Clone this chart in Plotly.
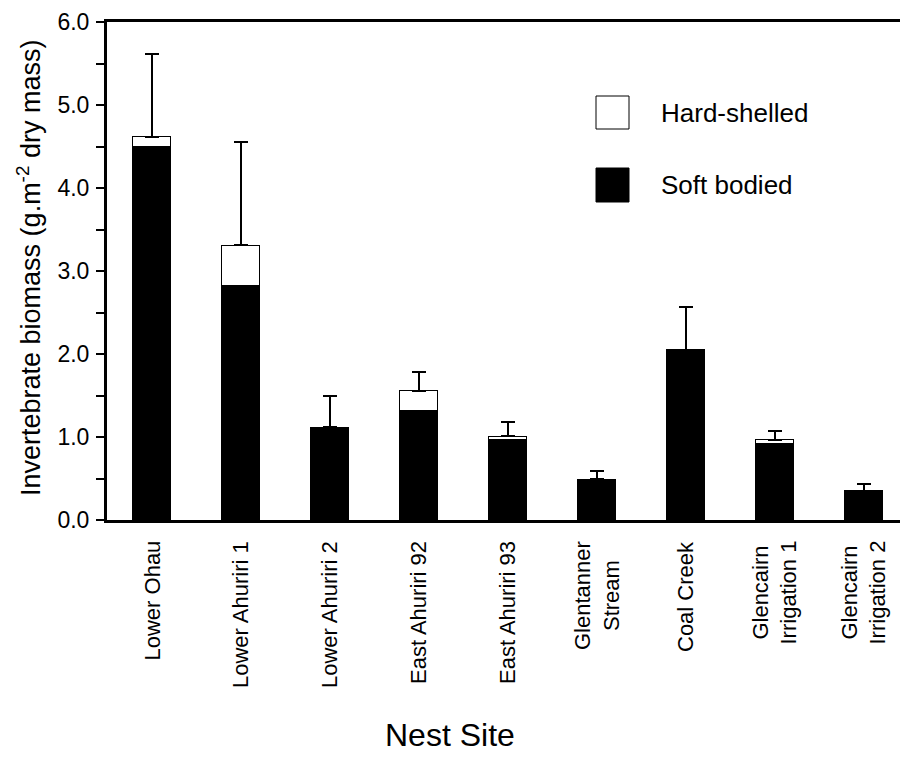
import plotly.graph_objects as go

sites = ["Lower Ohau", "Lower Ahuriri 1", "Lower Ahuriri 2", "East Ahuriri 92",
         "East Ahuriri 93", "Glentanner<br>Stream", "Coal Creek",
         "Glencairn<br>Irrigation 1", "Glencairn<br>Irrigation 2"]
soft_bodied = [4.50, 2.83, 1.12, 1.32, 0.97, 0.49, 2.05, 0.925, 0.353]
hard_shelled = [0.12, 0.48, 0.0, 0.24, 0.04, 0.0, 0.0, 0.04, 0.0]
se_total = [1.00, 1.25, 0.38, 0.22, 0.17, 0.10, 0.52, 0.105, 0.082]
series_names = ["Hard-shelled", "Soft bodied"]

FONT = "Liberation Sans, Arial, sans-serif"
OFF = 8  # default page body margin
W, H = 908 - OFF, 773 - OFF
L, R, T = 107 - OFF, 0, 22 - OFF
PW, PH = 801, 498
B = H - T - PH


def px(xpix):
    return (xpix - OFF - L) / PW


def py(ypix):
    return (T + PH - (ypix - OFF)) / PH


fig = go.Figure()
fig.add_trace(go.Bar(
    x=sites, y=soft_bodied, name=series_names[1], width=0.42,
    marker=dict(color="black", line=dict(color="black", width=1)),
))
fig.add_trace(go.Bar(
    x=sites, y=hard_shelled, name=series_names[0], width=0.42,
    marker=dict(color="white", line=dict(color="black", width=1)),
    error_y=dict(type="data", symmetric=False, array=se_total,
                 arrayminus=[0] * len(se_total), color="black",
                 thickness=2, width=7),
))

annotations = []
for i, s in enumerate(sites):
    annotations.append(dict(
        x=i, xref="x", y=py(539), yref="paper", text=s, textangle=-90,
        showarrow=False, xanchor="center", yanchor="top", align="center",
        font=dict(family=FONT, size=22, color="black"),
    ))

annotations.append(dict(
    x=px(450), xref="paper", y=py(735), yref="paper", text="Nest Site",
    showarrow=False, xanchor="center", yanchor="middle",
    font=dict(family=FONT, size=32, color="black"),
))
annotations.append(dict(
    x=px(29), xref="paper", y=py(268), yref="paper",
    text="Invertebrate biomass (g.m<sup>-2</sup> dry mass)", textangle=-90,
    showarrow=False, xanchor="center", yanchor="middle",
    font=dict(family=FONT, size=27, color="black"),
))

shapes = []
legend_rows = [(series_names[0], "white", 96, 129), (series_names[1], "black", 168, 202)]
for name, col, y0, y1 in legend_rows:
    shapes.append(dict(type="rect", xref="paper", yref="paper",
                       x0=px(596), x1=px(629), y0=py(y1), y1=py(y0),
                       fillcolor=col, line=dict(color="black", width=1)))
    annotations.append(dict(
        x=px(659), xref="paper", y=py((y0 + y1) / 2), yref="paper", text=name,
        showarrow=False, xanchor="left", yanchor="middle",
        font=dict(family=FONT, size=26, color="black"),
    ))

fig.update_layout(
    width=W, height=H, barmode="stack", showlegend=False,
    margin=dict(l=L, r=R, t=T, b=B, pad=0),
    paper_bgcolor="white", plot_bgcolor="white",
    font=dict(family=FONT, color="black"),
    annotations=annotations, shapes=shapes,
    xaxis=dict(range=[-0.5, 8.5], showticklabels=False, ticks="",
               showline=True, linecolor="black", linewidth=3, mirror=True,
               showgrid=False, zeroline=False, fixedrange=True),
    yaxis=dict(range=[0, 6], dtick=1, tick0=0, tickformat=".1f",
               ticks="outside", ticklen=8, tickwidth=1.5, tickcolor="black",
               minor=dict(dtick=0.5, ticks="outside", ticklen=8, tickwidth=1.5,
                          tickcolor="black", showgrid=False),
               ticklabelstandoff=2,
               tickfont=dict(family=FONT, size=23, color="black"),
               showline=True, linecolor="black", linewidth=3,
               showgrid=False, zeroline=False, fixedrange=True),
)

fig.write_html("out.html")
